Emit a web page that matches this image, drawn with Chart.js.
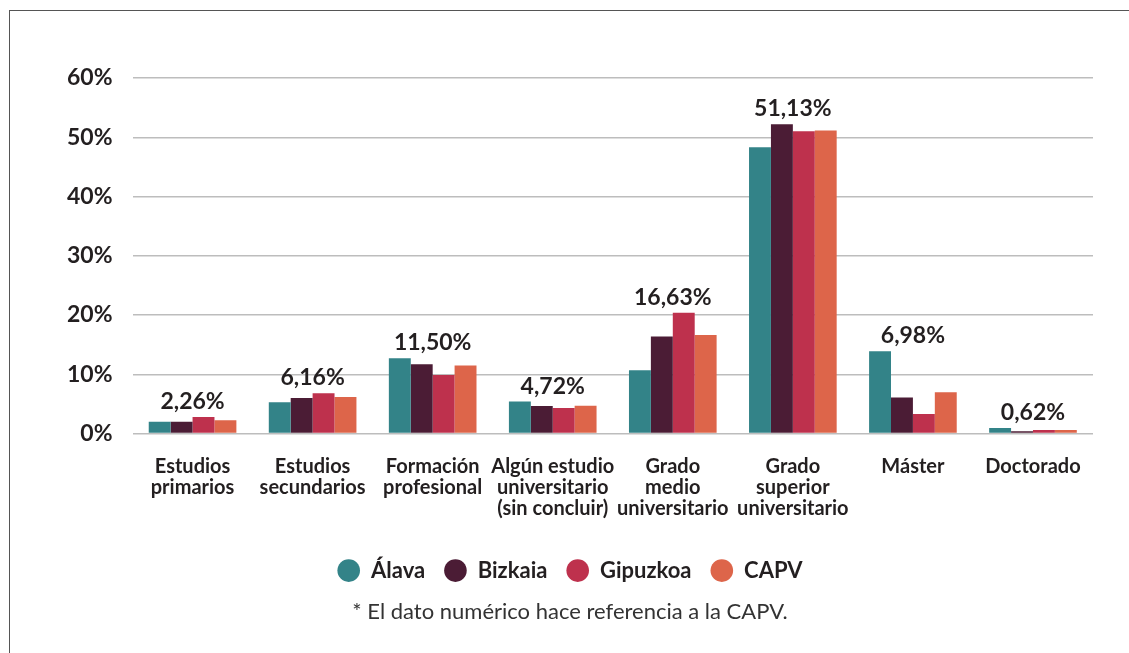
<!DOCTYPE html>
<html>
<head>
<meta charset="utf-8">
<script src="https://cdn.jsdelivr.net/npm/chart.js@4"></script>
<style>
  html, body { margin: 0; padding: 0; background: #fff; overflow: hidden; }
  #wrap { position: relative; width: 1129px; height: 653px; }
  #frame { position: absolute; left: 9px; top: 10px; width: 1200px; height: 800px;
           border-left: 1.5px solid #555; border-top: 1.5px solid #555; box-sizing: border-box; }
  canvas { position: absolute; left: 0; top: 0; }
</style>
</head>
<body>
<div id="wrap">
  <div id="frame"></div>
  <canvas id="c" width="1129" height="653"></canvas>
</div>
<script>
const categories = [
  ["Estudios", "primarios"],
  ["Estudios", "secundarios"],
  ["Formación", "profesional"],
  ["Algún estudio", "universitario", "(sin concluir)"],
  ["Grado", "medio", "universitario"],
  ["Grado", "superior", "universitario"],
  ["Máster"],
  ["Doctorado"]
];
const seriesNames = ["Álava", "Bizkaia", "Gipuzkoa", "CAPV"];
const alava    = [2.0, 5.3, 12.7, 5.4, 10.7, 48.3, 13.9, 0.95];
const bizkaia  = [2.0, 6.0, 11.7, 4.65, 16.4, 52.2, 6.1, 0.4];
const gipuzkoa = [2.8, 6.8, 9.9, 4.3, 20.4, 51.0, 3.3, 0.6];
const capv     = [2.26, 6.16, 11.50, 4.72, 16.63, 51.13, 6.98, 0.62];
const colors = ["#338388", "#4b1c35", "#be314d", "#dd654a"];
const yTicks = [0, 10, 20, 30, 40, 50, 60];
const footnote = "* El dato numérico hace referencia a la CAPV.";

const FONT = "Lato, 'Open Sans', sans-serif";
const TEXT = "#231f20";

const labelPlugin = {
  id: 'groupLabels',
  afterDatasetsDraw(chart) {
    const ctx = chart.ctx;
    const xs = chart.scales.x;
    ctx.save();
    ctx.font = "bold 23px " + FONT;
    ctx.fillStyle = TEXT;
    ctx.textAlign = "center";
    ctx.textBaseline = "alphabetic";
    capv.forEach((v, i) => {
      let top = Infinity;
      chart.data.datasets.forEach((ds, d) => {
        const el = chart.getDatasetMeta(d).data[i];
        if (el && el.y < top) top = el.y;
      });
      const x = xs.getPixelForValue(i);
      ctx.fillText(v.toFixed(2).replace('.', ',') + "%", x, top - 8);
    });
    ctx.restore();
  }
};

const data = [alava, bizkaia, gipuzkoa, capv];
new Chart(document.getElementById('c'), {
  type: 'bar',
  data: {
    labels: categories,
    datasets: seriesNames.map((n, i) => ({
      label: n,
      data: data[i],
      backgroundColor: colors[i],
      borderWidth: 0,
      categoryPercentage: 0.73,
      barPercentage: 1.0
    }))
  },
  options: {
    responsive: false,
    animation: false,
    events: [],
    layout: { padding: { left: 47, right: 36, top: 78, bottom: 18 } },
    scales: {
      x: {
        grid: { display: false, drawTicks: false },
        border: { display: false },
        ticks: {
          color: TEXT,
          font: { family: FONT, size: 20, weight: 'bold', lineHeight: 1.05 },
          padding: 22,
          maxRotation: 0,
          autoSkip: false
        }
      },
      y: {
        min: 0, max: 60,
        afterBuildTicks(scale) { scale.ticks = yTicks.map(v => ({ value: v })); },
        grid: { color: "#bdbdbd", lineWidth: 1.5, drawTicks: false },
        border: { display: false },
        ticks: {
          color: TEXT,
          font: { family: FONT, size: 23, weight: 'bold' },
          padding: 20,
          callback: v => v + "%"
        }
      }
    },
    plugins: {
      legend: {
        position: 'bottom',
        labels: {
          usePointStyle: true,
          pointStyle: 'circle',
          boxWidth: 16,
          boxHeight: 16,
          pointStyleWidth: 22.6,
          padding: 19,
          color: TEXT,
          font: { family: FONT, size: 22, weight: 'bold' }
        }
      },
      title: {
        display: true,
        position: 'bottom',
        text: footnote,
        color: "#333",
        font: { family: FONT, size: 22, weight: 'normal' },
        padding: { top: 7, bottom: 10 }
      },
      tooltip: { enabled: false }
    }
  },
  plugins: [labelPlugin]
});
</script>
</body>
</html>
